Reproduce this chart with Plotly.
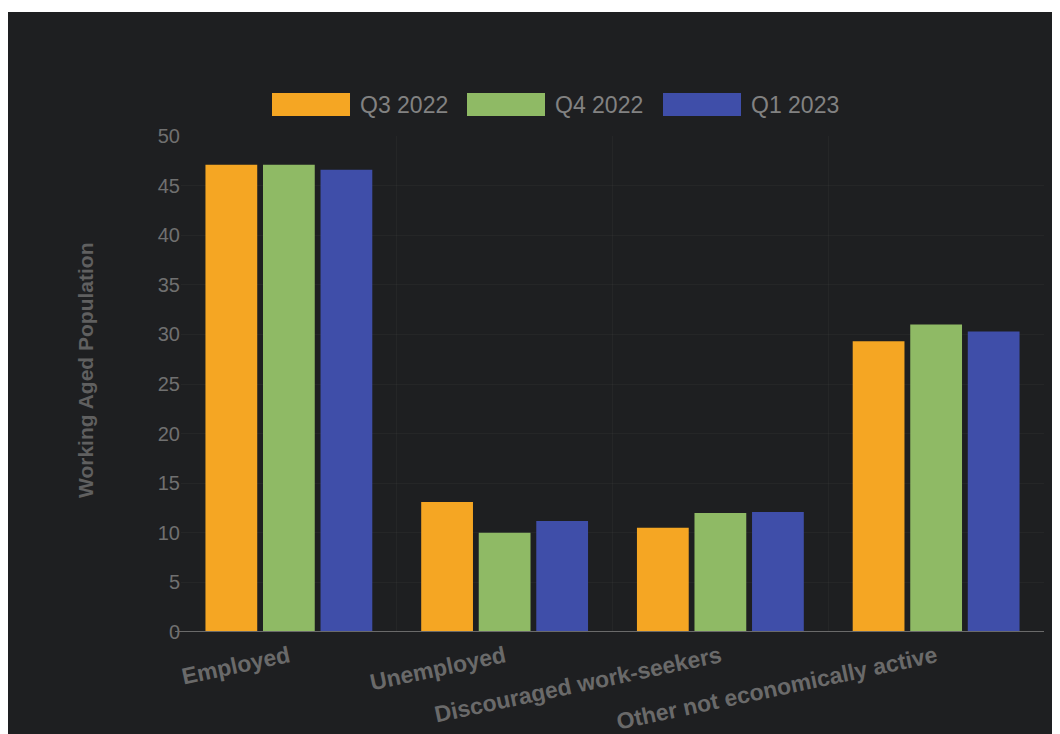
import plotly.graph_objects as go

categories = ["Employed", "Unemployed", "Discouraged work-seekers", "Other not economically active"]
series_names = ["Q3 2022", "Q4 2022", "Q1 2023"]
q3_2022 = [47.1, 13.1, 10.5, 29.3]
q4_2022 = [47.1, 10.0, 12.0, 31.0]
q1_2023 = [46.6, 11.2, 12.1, 30.3]
y_ticks = [0, 5, 10, 15, 20, 25, 30, 35, 40, 45, 50]

colors = ["#F5A623", "#8FBA65", "#3F4EA9"]
BG = "#1e1f21"
OFF = 8  # page body margin
W, H = 1060 - OFF, 734 - OFF
# plot area in window pixels
PL, PR, PT, PB = 181, 1044, 136, 632
L, R, T, B = PL - OFF, (OFF + W) - PR, PT - OFF, (OFF + H) - PB
PW, PH = W - L - R, H - T - B


def px(x):
    return (x - PL) / PW


def py(y):
    return (PB - y) / PH


fig = go.Figure()
for name, vals, col in zip(series_names, [q3_2022, q4_2022, q1_2023], colors):
    fig.add_trace(go.Bar(x=categories, y=vals, name=name, marker=dict(color=col, line=dict(width=0)),
                         showlegend=False))

shapes = [
    dict(type="rect", xref="paper", yref="paper", x0=px(OFF), x1=px(OFF + W), y0=py(OFF + H), y1=py(12),
         fillcolor=BG, line=dict(width=0), layer="below"),
    dict(type="line", xref="paper", yref="y", x0=px(175), x1=1, y0=0, y1=0,
         line=dict(color="#6a6a6a", width=2), layer="above"),
]

annotations = [
    dict(text="<b>Working Aged Population</b>", xref="paper", yref="paper", x=px(85), y=py(370),
         xanchor="center", yanchor="middle", textangle=-90, showarrow=False,
         font=dict(family="Liberation Sans, Arial, sans-serif", size=21, color="#606060")),
]

# custom legend
box_x = [272, 467, 663]
for i, (name, col) in enumerate(zip(series_names, colors)):
    x0 = box_x[i]
    shapes.append(dict(type="rect", xref="paper", yref="paper", x0=px(x0), x1=px(x0 + 78),
                       y0=py(116), y1=py(93), fillcolor=col, line=dict(width=0), layer="above"))
    annotations.append(dict(text=name, xref="paper", yref="paper", x=px(x0 + 86), y=py(104.5),
                            xanchor="left", yanchor="middle", showarrow=False,
                            font=dict(family="Liberation Sans, Arial, sans-serif", size=23,
                                      color="#828282")))

fig.update_layout(
    template="none",
    width=W, height=H,
    margin=dict(l=L, r=R, t=T, b=B, pad=0),
    paper_bgcolor="#ffffff",
    plot_bgcolor=BG,
    barmode="group",
    bargap=0.2,
    bargroupgap=0.1,
    shapes=shapes,
    annotations=annotations,
    showlegend=False,
    xaxis=dict(
        type="category",
        tickangle=-12,
        tickson="boundaries",
        showgrid=True,
        gridcolor="rgba(255,255,255,0.03)",
        gridwidth=1,
        ticks="",
        showline=False,
        zeroline=False,
        automargin=False,
        ticklabelstandoff=6,
        tickfont=dict(family="Liberation Sans, Arial, sans-serif", size=23, color="#6a6a6a", weight="bold"),
    ),
    yaxis=dict(
        range=[0, 50],
        tickvals=y_ticks,
        ticktext=[str(v) for v in y_ticks],
        showgrid=True,
        gridcolor="rgba(255,255,255,0.03)",
        gridwidth=1,
        zeroline=False,
        showline=False,
        ticks="",
        automargin=False,
        ticklabelstandoff=0,
        tickfont=dict(family="Liberation Sans, Arial, sans-serif", size=20, color="#707070"),
    ),
)

fig.write_html("out.html")
